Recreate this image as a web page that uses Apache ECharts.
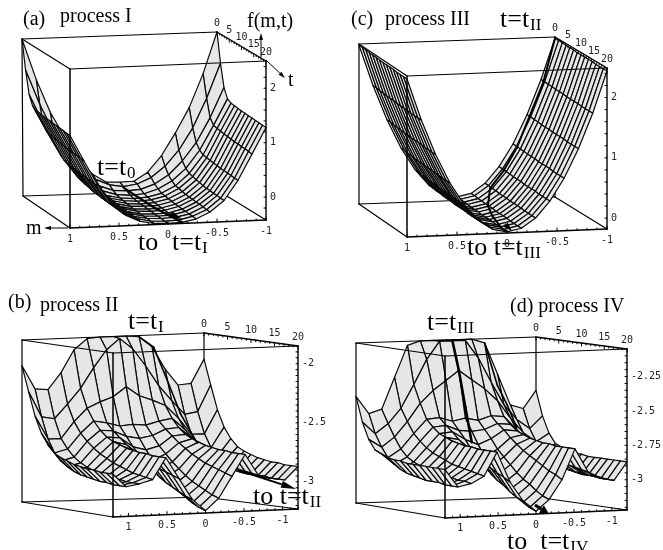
<!DOCTYPE html>
<html><head><meta charset="utf-8">
<style>html,body{margin:0;padding:0;background:#fff}#c{width:663px;height:550px}</style>
<script src="https://cdn.jsdelivr.net/npm/echarts@6/dist/echarts.min.js"></script>
</head><body><div id="c"></div>
<script>
// ---- values: rows are t-steps (back to front), columns are |m| steps (0 .. edge)
const surfaceA = [
[-.22,-.21,-.05,.25,.66,1.12,1.74,2.5],
[-.26,-.22,-.11,.09,.38,.78,1.32,1.96],
[-.30,-.28,-.19,-.03,.22,.55,1.0,1.55],
[-.34,-.32,-.24,-.10,.12,.45,.90,1.38],
[-.36,-.34,-.28,-.15,.07,.40,.88,1.34],
[-.37,-.35,-.29,-.16,.05,.39,.87,1.33],
[-.38,-.36,-.30,-.18,.03,.38,.86,1.32],
[-.38,-.37,-.31,-.19,.02,.37,.85,1.31],
[-.39,-.38,-.32,-.20,0,.36,.84,1.31],
[-.39,-.38,-.32,-.20,-.01,.35,.83,1.30],
[-.40,-.39,-.33,-.21,-.01,.35,.83,1.30],
[-.40,-.39,-.33,-.21,-.02,.34,.82,1.29],
[-.40,-.39,-.34,-.22,-.02,.34,.82,1.29],
[-.41,-.40,-.34,-.23,-.03,.33,.81,1.28],
[-.41,-.40,-.35,-.23,-.03,.33,.80,1.28]];
const surfaceC = [
[-.12,-.07,.09,.36,.73,1.21,1.79,2.47],
[-.12,-.07,.09,.36,.73,1.21,1.79,2.47],
[-.13,-.08,.08,.35,.72,1.20,1.78,2.47],
[-.13,-.08,.08,.35,.72,1.20,1.78,2.46],
[-.14,-.09,.07,.34,.71,1.19,1.77,2.46],
[-.14,-.09,.07,.34,.71,1.19,1.77,2.46],
[-.14,-.09,.07,.34,.71,1.19,1.77,2.45],
[-.15,-.10,.06,.33,.70,1.18,1.76,2.45],
[-.15,-.10,.06,.33,.70,1.18,1.76,2.45],
[-.15,-.10,.06,.33,.70,1.18,1.76,2.45],
[-.15,-.10,.06,.33,.70,1.18,1.76,2.45],
[-.16,-.11,.05,.32,.69,1.17,1.75,2.44],
[-.16,-.11,.05,.32,.69,1.17,1.75,2.44],
[-.16,-.11,.05,.32,.69,1.17,1.75,2.44],
[-.16,-.11,.05,.32,.69,1.17,1.75,2.44]];
const surfaceB = [
[-1.85,-1.85,-1.86,-1.95,-2.14,-2.28,-2.27,-2.07],
[-1.86,-1.95,-2.10,-2.27,-2.40,-2.52,-2.50,-2.28],
[-2.26,-2.34,-2.38,-2.43,-2.54,-2.68,-2.68,-2.48],
[-2.57,-2.58,-2.55,-2.53,-2.63,-2.76,-2.79,-2.62],
[-2.68,-2.66,-2.61,-2.60,-2.69,-2.82,-2.85,-2.71],
[-2.77,-2.74,-2.66,-2.65,-2.74,-2.86,-2.89,-2.77],
[-2.85,-2.80,-2.71,-2.68,-2.78,-2.89,-2.92,-2.80],
[-2.92,-2.86,-2.75,-2.70,-2.81,-2.91,-2.94,-2.82],
[-2.98,-2.91,-2.79,-2.72,-2.84,-2.93,-2.95,-2.84],
[-3.04,-2.96,-2.82,-2.73,-2.86,-2.94,-2.96,-2.85],
[-3.08,-3.00,-2.85,-2.74,-2.88,-2.95,-2.97,-2.86],
[-3.12,-3.03,-2.87,-2.74,-2.90,-2.95,-2.97,-2.86],
[-3.16,-3.06,-2.89,-2.75,-2.91,-2.96,-2.98,-2.87],
[-3.19,-3.09,-2.91,-2.75,-2.92,-2.96,-2.98,-2.87],
[-3.21,-3.11,-2.93,-2.75,-2.93,-2.96,-2.98,-2.87]];
const surfaceD = [
[-2.05,-2.05,-2.05,-2.08,-2.31,-2.54,-2.57,-2.44],
[-2.05,-2.05,-2.18,-2.36,-2.53,-2.64,-2.71,-2.62],
[-2.26,-2.33,-2.40,-2.49,-2.62,-2.73,-2.80,-2.74],
[-2.60,-2.62,-2.59,-2.60,-2.70,-2.81,-2.87,-2.81],
[-2.69,-2.68,-2.64,-2.65,-2.75,-2.86,-2.91,-2.83],
[-2.78,-2.74,-2.68,-2.69,-2.79,-2.89,-2.94,-2.85],
[-2.86,-2.81,-2.73,-2.71,-2.82,-2.91,-2.96,-2.86],
[-2.92,-2.86,-2.77,-2.73,-2.84,-2.93,-2.97,-2.86],
[-2.98,-2.91,-2.81,-2.74,-2.86,-2.94,-2.98,-2.87],
[-3.03,-2.96,-2.84,-2.75,-2.88,-2.95,-2.99,-2.87],
[-3.07,-3.00,-2.87,-2.75,-2.89,-2.96,-2.99,-2.87],
[-3.11,-3.03,-2.90,-2.76,-2.90,-2.96,-2.99,-2.87],
[-3.15,-3.07,-2.93,-2.76,-2.91,-2.97,-3.00,-2.87],
[-3.18,-3.10,-2.95,-2.76,-2.92,-2.97,-3.00,-2.87],
[-3.20,-3.12,-2.98,-2.76,-2.93,-2.98,-3.00,-2.87]];

const mTicks = [1, 0.5, 0, -0.5, -1];
const tTicks = [0, 5, 10, 15, 20];
const fTicksA = [0, 1, 2];
const fTicksC = [0, 1, 2];
const fTicksB = [-3, -2.5, -2];
const fTicksD = [-3, -2.75, -2.5, -2.25];

// bold trajectories over the surface: signed mesh column (+7 left edge), t-step, f
const pathAcol = [0, -0.5, -1], pathAstep = [1, 8, 14], pathAf = [-.28, -.37, -.40];
const pathCcol = [-7, -6, -4, -3, -2, -1, -.5, 0, 0], pathCstep = [0, .6, 1, 1.2, 1.4, 4.7, 8, 12.6, 14],
      pathCf = [2.47, 1.76, .7, .33, .06, -.1, -.14, -.16, -.16];
const pathBcol = [-2, -3, -3, -3, -3], pathBstep = [0, .25, 2.26, 4.27, 6.8], pathBf = [-1.86, -1.95, -2.21, -2.48, -2.71];
const pathDcol = [0, 0, 0, 0], pathDstep = [1, 2, 3, 4], pathDf = [-2.05, -2.26, -2.52, -2.77];
const pathD2col = [-3, -3, -3, -3], pathD2step = [0, 2, 3.5, 5], pathD2f = [-2.08, -2.38, -2.51, -2.67];

// ---- layout: box corners (back/front, left/right, bottom/top) in chart units
const panels = [
 {s:surfaceA, fr:[-.42,2.5], mMax:1, fT:fTicksA, c:{blb:[23,196],brb:[217,190],flb:[70,228],frb:[266,220],blt:[22,39],brt:[217,32],flt:[70,69],frt:[266,61]}, paths:[[pathAcol,pathAstep,pathAf,2.2]]},
 {s:surfaceC, fr:[-.18,2.49], mMax:1, fT:fTicksC, c:{blb:[359,204],brb:[555,197],flb:[407,237],frb:[607,229],blt:[359,44],brt:[555,37],flt:[407,76],frt:[607,68]}, paths:[[pathCcol,pathCstep,pathCf,2]]},
 {s:surfaceB, fr:[-3.23,-1.85], mMax:1.2, fT:fTicksB, c:{blb:[22,502],brb:[204,497],flb:[113,517],frb:[298,509],blt:[22,340],brt:[204,333],flt:[113,353],frt:[298,346]}, paths:[[pathBcol,pathBstep,pathBf,1.6]]},
 {s:surfaceD, fr:[-3.22,-2.05], mMax:1.2, fT:fTicksD, c:{blb:[356,503],brb:[536,497],flb:[445,518],frb:[627,510],blt:[356,343],brt:[536,337],flt:[445,356],frt:[627,349]}, paths:[[pathDcol,pathDstep,pathDf,2.6],[pathD2col,pathD2step,pathD2f,1.6]]}
];
const SERIF = '"Liberation Serif","Times New Roman",serif';
const sub = (main, s) => '{a|' + main + '}{s|' + s + '}';
const plainLabels = [
 ['(a)',23,20,20],['process I',60,17,20],['f(m,t)',247,22,20],['t',288,81,20],['m',26,229,20],
 ['to',138,243,26],
 ['(c)',351,20,20],['process III',385,20,20],
 ['(b)',8,303,20],['process II',40,306,20],
 ['(d) process IV',510,307,20]
];
const subLabels = [
 ['t=t','0',97,168],['t=t','I',172,243],
 ['t=t','II',500,20],['to t=t','III',467,248],
 ['t=t','I',128,322],['to t=t','II',253,497],
 ['t=t','III',427,323],['to  t=t','IV',507,542]
];
const arrows = [ // thin annotation arrows and thick end arrows: from, to, line width, head length, head width
 [[261,57],[261,33],1,7,4],[[266,60],[285,78],1,7,4],[[68,228],[44,228],1,7,4],
 [[238,470],[296,489],2,15,7],[[535,505],[549,514],3,9,9],[[170,214],[182,219],2,12,7],[[505,224],[512,231],2,9,6]
];

function project(p, col, step, f) {
  const u = (7 - col) / 14, v = step / 14, w = (f - p.fr[0]) / (p.fr[1] - p.fr[0]);
  return proj01(p, u, v, w);
}
function proj01(p, u, v, w) {
  const c = p.c, r = [0, 0];
  for (let i = 0; i < 2; i++) {
    const lerp = (a, b, t) => a + (b - a) * t;
    const b0 = lerp(c.blb[i], c.brb[i], u), b1 = lerp(c.flb[i], c.frb[i], u);
    const t0 = lerp(c.blt[i], c.brt[i], u), t1 = lerp(c.flt[i], c.frt[i], u);
    r[i] = lerp(lerp(b0, b1, v), lerp(t0, t1, v), w);
  }
  return r;
}
const value = (p, col, step) => p.s[step][Math.abs(col)];

// ---- build series data
const quads = [], backSegs = [], frontSegs = [], pathLines = [], tickTexts = [];
panels.forEach(p => {
  const c = p.c, seg = (a, b, w) => [a[0], a[1], b[0], b[1], w];
  [['blb','brb'],['blb','flb'],['brb','frb'],['brb','brt']].forEach(e => backSegs.push(seg(c[e[0]], c[e[1]], 1.2)));
  for (let r = 0; r < 14; r++) {
    for (let j = -7; j < 7; j++) {   // right (far) to left (near)
      const a = project(p, j, r, value(p, j, r)), b = project(p, j + 1, r, value(p, j + 1, r)),
            d = project(p, j, r + 1, value(p, j, r + 1)), e = project(p, j + 1, r + 1, value(p, j + 1, r + 1));
      quads.push([a[0], a[1], b[0], b[1], e[0], e[1], d[0], d[1]]);
    }
  }
  [['flb','frb',1.5],['flt','frt',1.2],['flb','flt',1.5],['frb','frt',1.4],['blt','flt',1.2],['brt','frt',1.4],['blt','brt',1.2],['blb','blt',1.2]]
    .forEach(e => frontSegs.push(seg(c[e[0]], c[e[1]], e[2])));
  // ticks
  const mu = m => (p.mMax - m) / (2 * p.mMax);
  for (let k = -Math.round(p.mMax * 10); k <= Math.round(p.mMax * 10); k++) {
    const q = proj01(p, mu(k / 10), 1, 0), len = k % 5 === 0 ? 3 : 1.5;
    frontSegs.push([q[0], q[1], q[0], q[1] - len, 1]);
  }
  for (let t = 0; t <= 20; t++) {
    const q = proj01(p, 1, t / 20, 1), len = t % 5 === 0 ? 3 : 1.5;
    frontSegs.push([q[0], q[1], q[0], q[1] + len, 1]);
  }
  const span = p.fr[1] - p.fr[0], st = p.mMax > 1 ? 0.05 : 0.2;
  for (let k = Math.ceil(p.fr[0] / st); k * st <= p.fr[1]; k++) {
    const q = proj01(p, 1, 1, (k * st - p.fr[0]) / span);
    frontSegs.push([q[0], q[1], q[0] - 2, q[1], 1]);
  }
  // tick labels
  mTicks.forEach(m => { const q = proj01(p, mu(m), 1, 0); tickTexts.push([q[0], q[1] + 11, String(m), 'center']); });
  tTicks.forEach(t => { const q = proj01(p, 1, t / 20, 1); tickTexts.push([q[0], q[1] - 9, String(t), 'center']); });
  p.fT.forEach(f => { const q = proj01(p, 1, 1, (f - p.fr[0]) / span); tickTexts.push([q[0] + 4, q[1], String(f), 'left']); });
  p.paths.forEach(path => {
    const [cs, ss, fs, w] = path;
    for (let i = 0; i + 1 < cs.length; i++) {
      const a = project(p, cs[i], ss[i], fs[i]), b = project(p, cs[i + 1], ss[i + 1], fs[i + 1]);
      pathLines.push([a[0], a[1], b[0], b[1], w]);
    }
  });
});

const renderSeg = (color) => (params, api) => {
  const a = api.coord([api.value(0), api.value(1)]), b = api.coord([api.value(2), api.value(3)]);
  return {type:'line', shape:{x1:a[0],y1:a[1],x2:b[0],y2:b[1]}, style:{stroke:color, lineWidth:api.value(4), lineCap:'round'}};
};
const renderQuad = (params, api) => {
  const pts = [0,2,4,6].map(i => api.coord([api.value(i), api.value(i + 1)]));
  return {type:'polygon', shape:{points:pts}, style:{fill:'#e6e6e6', stroke:'#0a0a0a', lineWidth:1.2, lineJoin:'round'}};
};
const renderArrow = (params, api) => {
  const a = arrows[params.dataIndex], p0 = api.coord(a[0]), p1 = api.coord(a[1]);
  const dx = p1[0]-p0[0], dy = p1[1]-p0[1], L = Math.hypot(dx,dy), ux = dx/L, uy = dy/L, h = a[3], w = a[4]/2;
  const bx = p1[0]-ux*h, by = p1[1]-uy*h;
  return {type:'group', children:[
    {type:'line', shape:{x1:p0[0],y1:p0[1],x2:bx,y2:by}, style:{stroke:'#000', lineWidth:a[2]}},
    {type:'polygon', shape:{points:[p1,[bx-uy*w,by+ux*w],[bx+uy*w,by-ux*w]]}, style:{fill:'#000'}}
  ]};
};
const custom = (z, data, renderItem) => ({type:'custom', coordinateSystem:'cartesian2d', z, data, renderItem, clip:false, silent:true, animation:false});
const richStyle = {a:{fontSize:26,fontFamily:SERIF,color:'#000'}, s:{fontSize:17,fontFamily:SERIF,color:'#000',padding:[11,0,0,1]}};

const chart = echarts.init(document.getElementById('c'), null, {renderer:'canvas'});
chart.setOption({
  animation:false,
  backgroundColor:'#fff',
  grid:{left:0,right:0,top:0,bottom:0},
  xAxis:{type:'value',min:0,max:663,show:false},
  yAxis:{type:'value',min:0,max:550,inverse:true,show:false},
  series:[
    custom(1, backSegs, renderSeg('#000')),
    custom(2, quads, renderQuad),
    custom(3, frontSegs, renderSeg('#000')),
    custom(4, pathLines, renderSeg('#000')),
    custom(5, arrows.map(a => [a[0][0], a[0][1]]), renderArrow),
    custom(6, tickTexts.map(t => [t[0], t[1]]), (params, api) => {
      const t = tickTexts[params.dataIndex], q = api.coord([t[0], t[1]]);
      return {type:'text', x:q[0], y:q[1], style:{text:t[2], align:t[3], verticalAlign:'middle', font:'10px "DejaVu Sans Mono"', fill:'#222'}};
    }),
    custom(7, plainLabels.map(t => [t[1], t[2]]), (params, api) => {
      const t = plainLabels[params.dataIndex], q = api.coord([t[1], t[2]]);
      return {type:'text', x:q[0], y:q[1], style:{text:t[0], align:'left', verticalAlign:'middle', font:t[3] + 'px ' + SERIF, fill:'#000'}};
    }),
    custom(8, subLabels.map(t => [t[2], t[3]]), (params, api) => {
      const t = subLabels[params.dataIndex], q = api.coord([t[2], t[3]]);
      return {type:'text', x:q[0], y:q[1], style:{text:sub(t[0], t[1]), align:'left', verticalAlign:'middle', rich:richStyle, fill:'#000'}};
    })
  ]
});
</script></body></html>
